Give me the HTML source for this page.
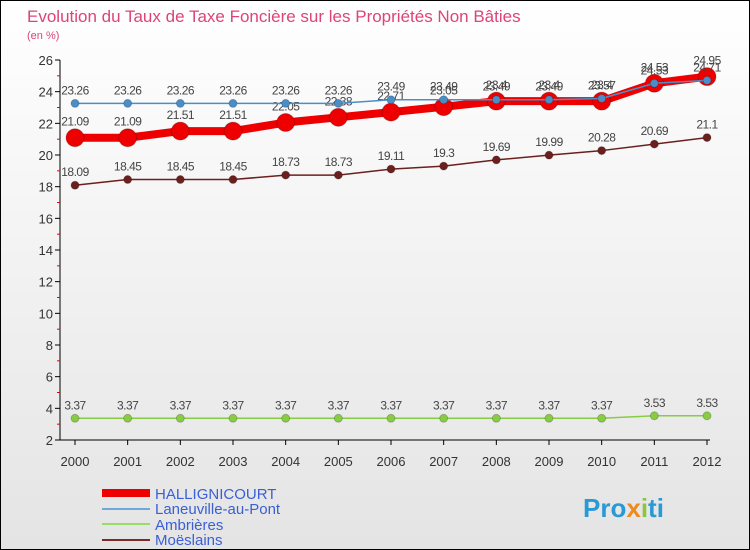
<!DOCTYPE html>
<html><head><meta charset="utf-8"><style>
body{margin:0;width:750px;height:550px;overflow:hidden;font-family:"Liberation Sans",sans-serif}
svg{display:block}
</style></head><body>
<svg id="c" width="750" height="550">
<defs><linearGradient id="bg" x1="0" y1="0" x2="0" y2="1"><stop offset="0" stop-color="#ffffff"/><stop offset="1" stop-color="#e4e4e4"/></linearGradient></defs>
<rect x="0.5" y="0.5" width="749" height="549" fill="url(#bg)" stroke="#000"/>
<text x="27" y="22" font-size="17" fill="#dd4477" font-weight="300">Evolution du Taux de Taxe Foncière sur les Propriétés Non Bâties</text>
<text x="27" y="39" font-size="11" fill="#dd4477">(en %)</text>
<g id="axes"></g><g id="series"></g>
<g>
<line x1="102" y1="493" x2="150" y2="493" stroke="#ee0000" stroke-width="8"/>
<text x="155" y="499" font-size="15" fill="#3a5fd6">HALLIGNICOURT</text>
<line x1="102" y1="509" x2="150" y2="509" stroke="#6fa8dc" stroke-width="2"/>
<text x="155" y="514" font-size="15" fill="#3a5fd6">Laneuville-au-Pont</text>
<line x1="102" y1="524" x2="150" y2="524" stroke="#99dd66" stroke-width="2"/>
<text x="155" y="530" font-size="15" fill="#3a5fd6">Ambrières</text>
<line x1="102" y1="540" x2="150" y2="540" stroke="#7a2a2a" stroke-width="2"/>
<text x="155" y="545" font-size="15" fill="#3a5fd6">Moëslains</text>
</g>
<text x="583" y="517" font-size="26" font-weight="bold" fill="#2a9ad6">Pro<tspan fill="#f08a1c">x</tspan><tspan fill="#8cc63f">i</tspan>ti</text>
</svg>
<script>
const years=[2000,2001,2002,2003,2004,2005,2006,2007,2008,2009,2010,2011,2012];
const hallignicourt=[21.09,21.09,21.51,21.51,22.05,22.38,22.71,23.05,23.4,23.4,23.4,24.53,24.95];
const laneuville=[23.26,23.26,23.26,23.26,23.26,23.26,23.49,23.49,23.49,23.49,23.57,24.53,24.71];
const ambrieres=[3.37,3.37,3.37,3.37,3.37,3.37,3.37,3.37,3.37,3.37,3.37,3.53,3.53];
const moeslains=[18.09,18.45,18.45,18.45,18.73,18.73,19.11,19.3,19.69,19.99,20.28,20.69,21.1];
const yTicks=[2,4,6,8,10,12,14,16,18,20,22,24,26];
const NS="http://www.w3.org/2000/svg";
const x=i=>75+i*(632/12), y=v=>440-(v-2)*(380/24);
function mk(t,a,p){const e=document.createElementNS(NS,t);for(const k in a)e.setAttribute(k,a[k]);p.appendChild(e);return e;}
const ax=document.getElementById('axes');
let e=mk('line',{x1:60,y1:60,x2:60,y2:440,stroke:'#000'},ax);


e=mk('line',{x1:60,y1:440,x2:710,y2:440,stroke:'#000'},ax);


yTicks.forEach(v=>{mk('line',{x1:55,y1:y(v),x2:60,y2:y(v),stroke:'#000'},ax);
 if(v<26)mk('line',{x1:57,y1:y(v+1),x2:60,y2:y(v+1),stroke:'#e00'},ax);
 const t=mk('text',{x:53,y:y(v)+5,'font-size':13,'text-anchor':'end',fill:'#333'},ax);t.textContent=v;
 
 });
years.forEach((yr,i)=>{mk('line',{x1:x(i),y1:440,x2:x(i),y2:445,stroke:'#000'},ax);
 const t=mk('text',{x:x(i),y:466,'font-size':13,'text-anchor':'middle',fill:'#333'},ax);t.textContent=yr;
 
 });
const sg=document.getElementById('series');
function draw(name,vals,color,w,r,labelDy){
 const g=mk('g',{},sg);
 
 
 mk('polyline',{points:vals.map((v,i)=>x(i)+','+y(v)).join(' '),fill:'none',stroke:color,'stroke-width':w,'stroke-linejoin':'round'},g);
 vals.forEach((v,i)=>{const c=mk('circle',{cx:x(i),cy:y(v),r:r,fill:color,stroke:'#00000033'},g);
  
  
  const t=mk('text',{x:x(i),y:y(v)+labelDy,'font-size':12,'text-anchor':'middle',fill:'#444','letter-spacing':'-0.5'},g);t.textContent=v;
  
  });
}
draw('moeslains',moeslains,'#6b1f1f',1.5,4,-9);
draw('ambrieres',ambrieres,'#88cc44',1.5,4,-9);
draw('hallignicourt',hallignicourt,'#ee0000',8,9,-12);
draw('laneuville',laneuville,'#4a8ec8',1.5,4,-9);
</script>
</body></html>
